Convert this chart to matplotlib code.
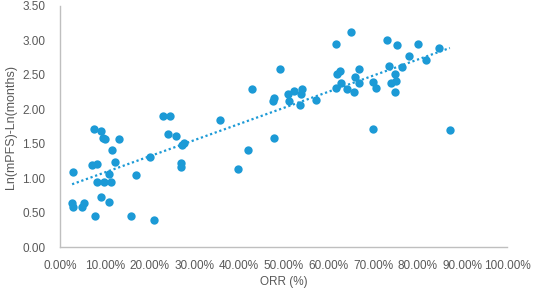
import numpy as np
import matplotlib
matplotlib.use("Agg")
from matplotlib import pyplot as plt
from matplotlib.ticker import PercentFormatter

# ORR (fraction) and Ln(mPFS)-Ln(months)
orr = [0.075, 0.091, 0.096, 0.100, 0.132, 0.115, 0.070, 0.081, 0.121, 0.029,
       0.109, 0.081, 0.098, 0.114, 0.091, 0.109, 0.026, 0.029, 0.049, 0.052,
       0.078, 0.157, 0.210, 0.200, 0.170, 0.240, 0.258, 0.276, 0.272, 0.271,
       0.270, 0.357, 0.420, 0.397, 0.479, 0.229, 0.246, 0.429, 0.491, 0.479,
       0.477, 0.510, 0.522, 0.512, 0.542, 0.539, 0.537, 0.572, 0.617, 0.650,
       0.732, 0.753, 0.800, 0.848, 0.818, 0.781, 0.765, 0.735, 0.750, 0.751,
       0.741, 0.750, 0.701, 0.707, 0.669, 0.659, 0.669, 0.657, 0.642, 0.620,
       0.625, 0.628, 0.617, 0.700, 0.872]
ln_pfs = [1.71, 1.69, 1.58, 1.57, 1.57, 1.41, 1.20, 1.21, 1.24, 1.10,
          1.06, 0.95, 0.95, 0.95, 0.73, 0.66, 0.65, 0.58, 0.58, 0.64,
          0.45, 0.46, 0.40, 1.31, 1.05, 1.65, 1.61, 1.52, 1.48, 1.23,
          1.17, 1.84, 1.41, 1.13, 1.59, 1.91, 1.91, 2.30, 2.59, 2.16,
          2.12, 2.22, 2.26, 2.12, 2.29, 2.23, 2.06, 2.13, 2.95, 3.12,
          3.00, 2.94, 2.95, 2.89, 2.71, 2.78, 2.62, 2.63, 2.52, 2.41,
          2.38, 2.25, 2.40, 2.31, 2.58, 2.47, 2.39, 2.25, 2.30, 2.51,
          2.56, 2.39, 2.31, 1.71, 1.70]

blue = "#1C9AD6"
grey = "#595959"

plt.rcParams['font.family'] = ['Liberation Sans', 'DejaVu Sans']

fig = plt.figure(figsize=(5.33, 2.96), dpi=100)
ax = fig.add_axes([0.1135, 0.164, 0.8377, 0.816])

ax.scatter(orr, ln_pfs, s=36, color=blue, linewidths=0, zorder=3)

# linear trendline over the data range
x = np.array(orr)
k, b = np.polyfit(x, np.array(ln_pfs), 1)
xs = np.linspace(x.min(), x.max(), 50)
ax.plot(xs, k * xs + b, linestyle=(0, (1, 1.2)), color=blue, lw=1.6, zorder=2)

ax.set_xlim(0, 1.0)
ax.set_ylim(0, 3.5)
ax.set_xticks(np.arange(0, 1.01, 0.1))
ax.set_yticks(np.arange(0, 3.51, 0.5))
ax.xaxis.set_major_formatter(PercentFormatter(1.0, decimals=2))
ax.yaxis.set_major_formatter(lambda v, p: f"{v:.2f}")
ax.tick_params(length=0, labelsize=8.5, colors=grey)
ax.tick_params(axis="x", pad=9)
ax.tick_params(axis="y", pad=11)

for s in ["top", "right"]:
    ax.spines[s].set_visible(False)
for s in ["left", "bottom"]:
    ax.spines[s].set_color("#BFBFBF")
    ax.spines[s].set_linewidth(1)

ax.set_xlabel("ORR (%)", fontsize=8.5, color=grey, labelpad=3)
ax.set_ylabel("Ln(mPFS)-Ln(months)", fontsize=9, color=grey, labelpad=4)

fig.savefig("out.png", dpi=100)
